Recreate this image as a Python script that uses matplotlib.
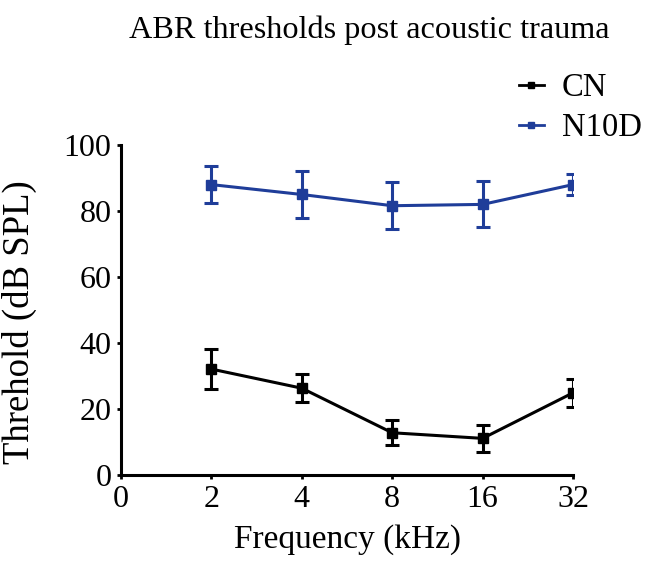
import matplotlib
matplotlib.use("Agg")
import matplotlib.pyplot as plt
from matplotlib.lines import Line2D

plt.rcParams['font.family'] = ['Liberation Serif', 'DejaVu Serif']

freq_labels = ['0', '2', '4', '8', '16', '32']
cn_mean = [32.1, 26.3, 12.8, 11.1, 24.9]
cn_err = [6.0, 4.2, 3.8, 4.2, 4.2]
n10d_mean = [88.0, 85.0, 81.6, 82.0, 88.0]
n10d_err = [5.6, 7.0, 7.1, 7.0, 3.2]

blue = '#1f3d99'
pos = list(range(1, len(freq_labels)))

fig = plt.figure(figsize=(6.45, 5.66), dpi=100)
ax = fig.add_axes([121/645, 1-475/566, (573-121)/645, (475-145)/566])

ax.errorbar(pos, cn_mean, yerr=cn_err, color='black', lw=2.2, marker='s', ms=7,
            capsize=4.7, capthick=2.2, elinewidth=2.2)
ax.errorbar(pos, n10d_mean, yerr=n10d_err, color=blue, lw=2.2, marker='s', ms=7,
            capsize=4.7, capthick=2.2, elinewidth=2.2)

ax.set_xlim(0, 5)
ax.set_ylim(0, 100)
ax.set_xticks(range(len(freq_labels)))
ax.set_xticklabels(freq_labels)
ax.set_yticks(range(0, 101, 20))
for s in ['top', 'right']:
    ax.spines[s].set_visible(False)
for s in ['left', 'bottom']:
    ax.spines[s].set_linewidth(2.2)
ax.tick_params(direction='out', length=3, width=2, labelsize=23, pad=4)
ax.set_xlabel('Frequency (kHz)', fontsize=24)
ax.xaxis.set_label_coords(0.5, -0.15)
ax.set_ylabel('Threhold (dB SPL)', fontsize=26.5)
ax.yaxis.set_label_coords(-0.185, 0.464)

fig.text(369/645, 1-38/566, 'ABR thresholds post acoustic trauma', fontsize=23.2,
         ha='center', va='baseline')

# Légende
handles = [Line2D([], [], color='black', lw=2, marker='s', ms=4),
           Line2D([], [], color=blue, lw=2, marker='s', ms=4)]
fig.legend(handles, ['CN', 'N10D'], loc='upper left', bbox_to_anchor=(0.805, 0.872),
           frameon=False, fontsize=23.5, handlelength=0.75, handletextpad=0.55,
           labelspacing=0.3, borderpad=0, borderaxespad=0)

fig.savefig('out.png', dpi=100)
